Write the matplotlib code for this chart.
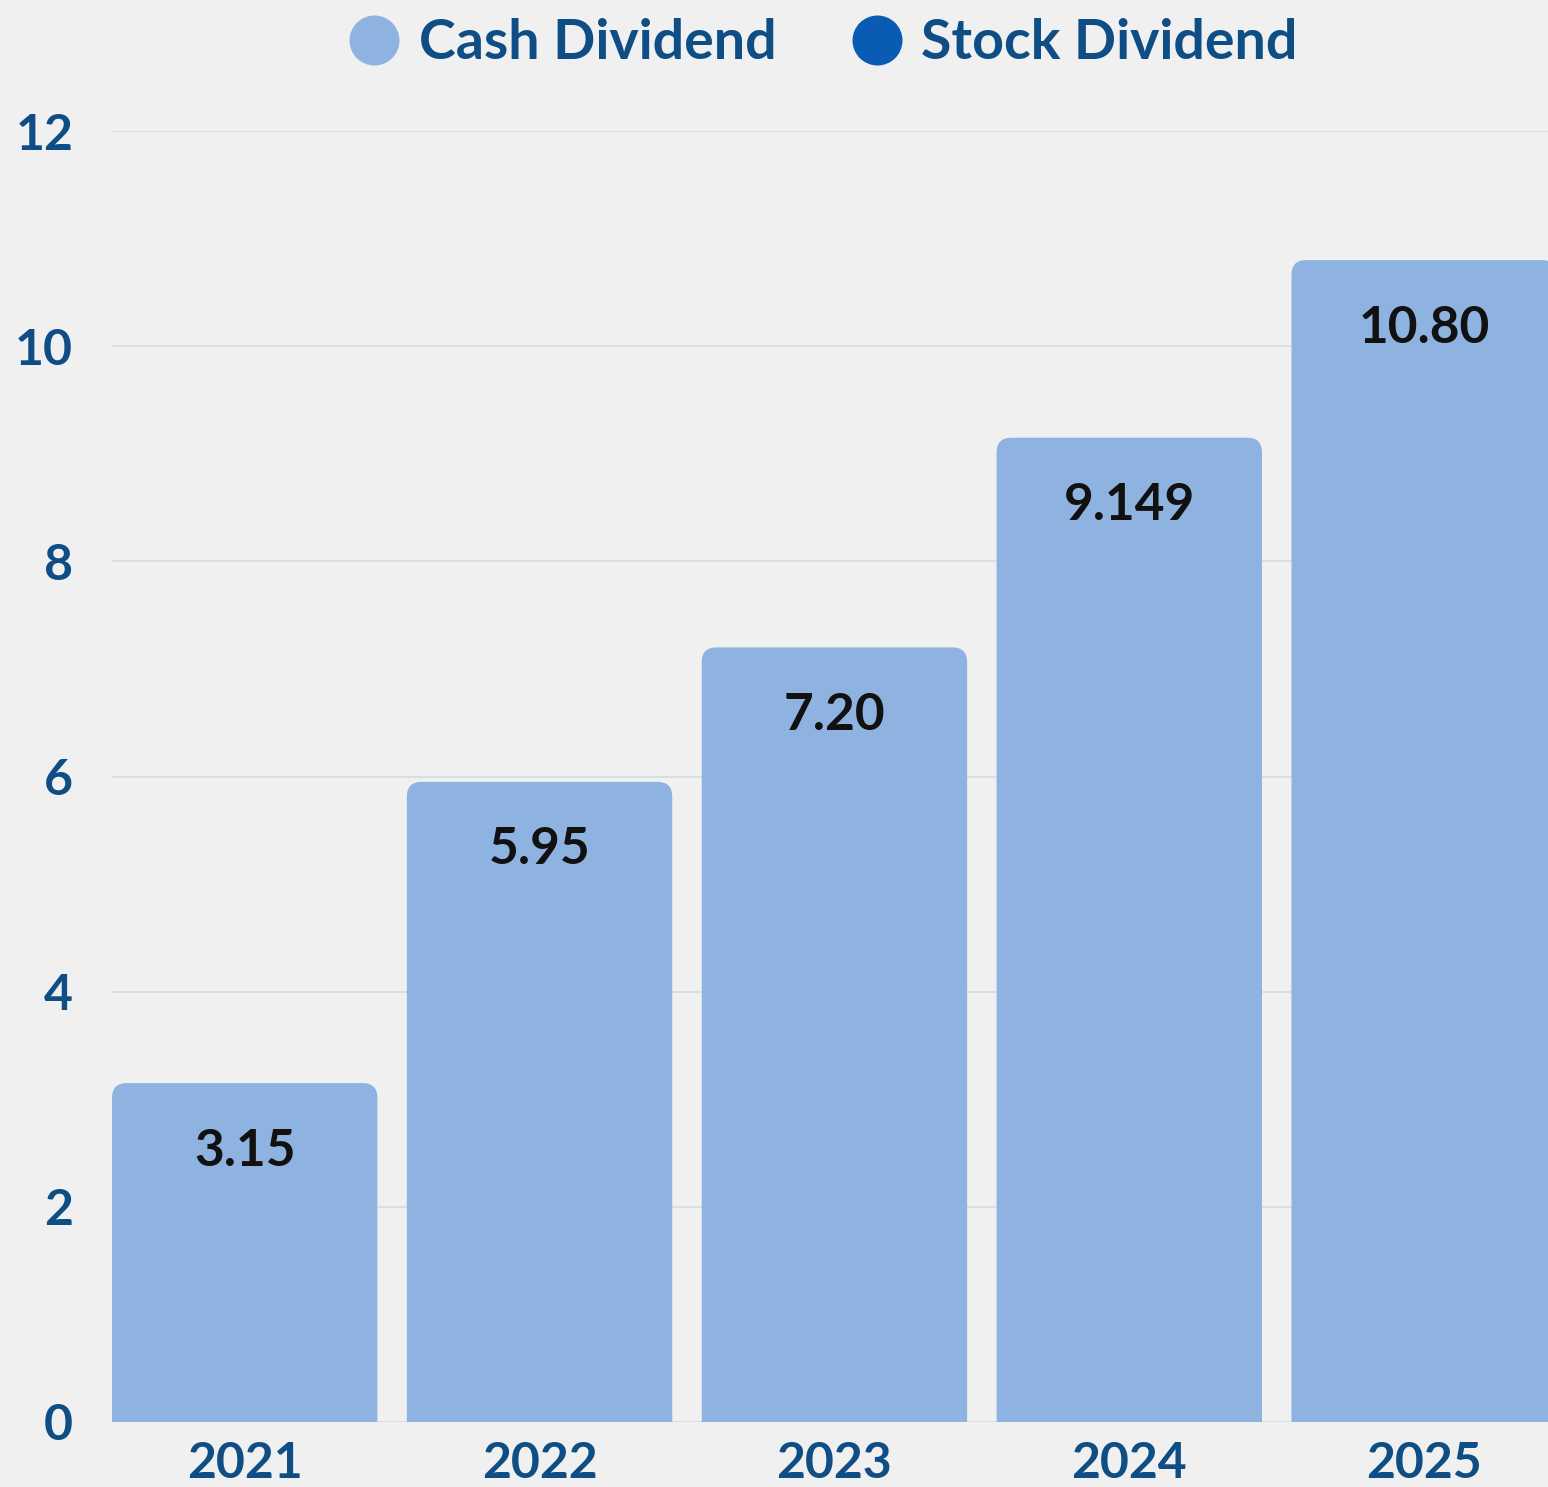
import matplotlib
matplotlib.use("Agg")
from matplotlib import pyplot as plt
from matplotlib.patches import FancyBboxPatch
from matplotlib.lines import Line2D

# data
years = ["2021", "2022", "2023", "2024", "2025"]
cash_dividend = [3.15, 5.95, 7.20, 9.149, 10.80]
value_labels = ["3.15", "5.95", "7.20", "9.149", "10.80"]
y_ticks = [0, 2, 4, 6, 8, 10, 12]

# colours
bg = "#f0f0f0"
cash_color = "#8fb3e1"
stock_color = "#0a5bb4"
text_blue = "#0f4d85"
grid_color = "#d3dbe3"

plt.rcParams["font.family"] = ["Lato", "DejaVu Sans"]

fig = plt.figure(figsize=(15.48, 14.87), dpi=100, facecolor=bg)
ax = fig.add_axes([112 / 1548, 65 / 1487, 1 - 112 / 1548, (1422 - 131) / 1487])
ax.set_facecolor(bg)

width = 0.9
x = list(range(len(years)))

# rounded-top bars; the box starts below 0 so its lower corners are clipped
for xi, h in zip(x, cash_dividend):
    box = FancyBboxPatch((xi - width / 2, -1), width, h + 1,
                         boxstyle="round,pad=0,rounding_size=0.05",
                         mutation_aspect=2.73, facecolor=cash_color,
                         edgecolor="none", zorder=3)
    ax.add_patch(box)

for xi, h, lab in zip(x, cash_dividend, value_labels):
    ax.annotate(lab, (xi, h), xytext=(0, -49), textcoords="offset points",
                ha="center", va="center", fontsize=37, fontweight="bold",
                color="#111111", zorder=4)

ax.set_xlim(-0.45, 4.42)
ax.set_ylim(0, 12)
ax.set_yticks(y_ticks)
ax.set_xticks(x)
ax.set_xticklabels(years)
ax.yaxis.grid(True, color=grid_color, linewidth=1.2, zorder=0)
ax.set_axisbelow(True)
for s in ax.spines.values():
    s.set_visible(False)
ax.tick_params(axis="both", length=0, colors=text_blue, labelsize=36)
ax.tick_params(axis="y", pad=28)
ax.tick_params(axis="x", pad=14)
for t in ax.get_xticklabels() + ax.get_yticklabels():
    t.set_fontweight("bold")

handles = [Line2D([], [], marker="o", linestyle="none", markersize=36,
                  markerfacecolor=cash_color, markeredgecolor="none"),
           Line2D([], [], marker="o", linestyle="none", markersize=36,
                  markerfacecolor=stock_color, markeredgecolor="none")]
leg = fig.legend(handles, ["Cash Dividend", "Stock Dividend"], loc="center",
                 bbox_to_anchor=(0.531, 1 - 43 / 1487), ncol=2, frameon=False,
                 fontsize=40, handletextpad=0.3, columnspacing=1.3,
                 handlelength=1.0)
for t in leg.get_texts():
    t.set_color(text_blue)
    t.set_fontweight("bold")

fig.savefig("out.png", dpi=100, facecolor=bg)
